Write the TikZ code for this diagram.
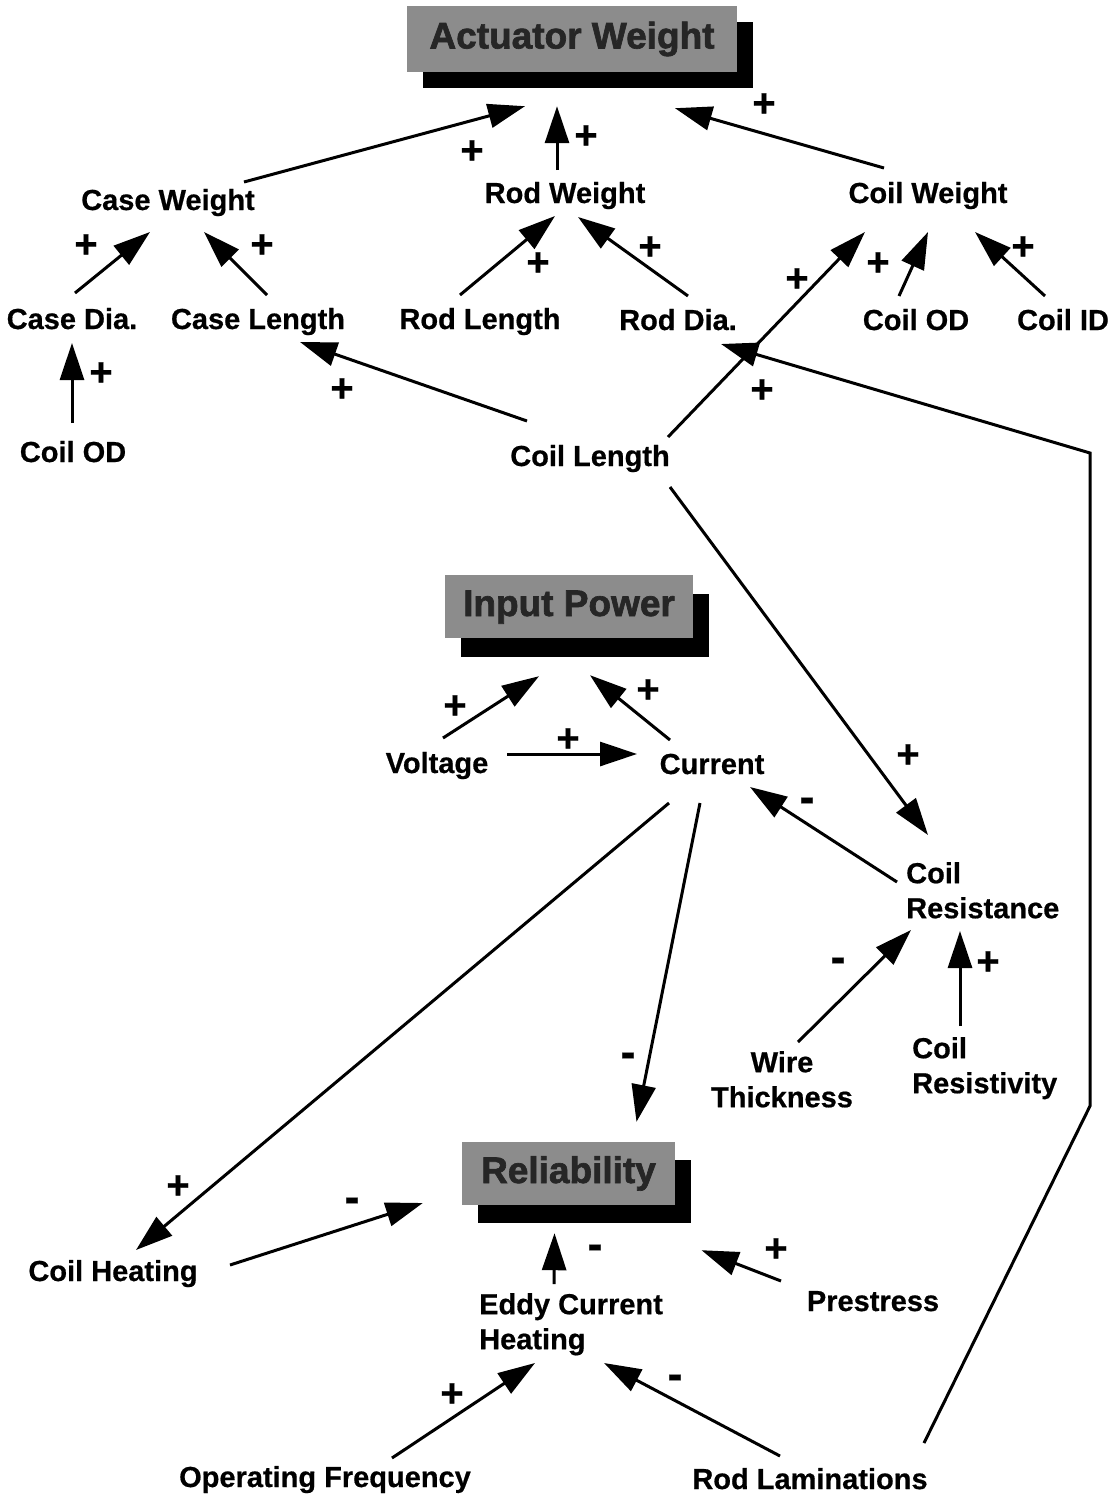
\documentclass[tikz,border=0pt]{standalone}
\usepackage{fontspec}
\setmainfont{Liberation Sans}[BoldFeatures={FakeBold=0.6}]
\newfontfamily\heavyfont{Liberation Sans}[FakeBold=1.8]
\usetikzlibrary{arrows.meta,shadows}
\definecolor{boxgray}{gray}{0.55}
\definecolor{boxtext}{gray}{0.15}
\begin{document}
\begin{tikzpicture}[x=1pt,y=-1pt,
  lbl/.style={font=\fontsize{29pt}{35pt}\selectfont\bfseries, inner sep=0pt,
              text height=21pt, text depth=6pt, anchor=base},
  mlbl/.style={font=\fontsize{29pt}{35pt}\selectfont\bfseries, inner sep=0pt},
  goal/.style={fill=boxgray, inner sep=0pt, text=boxtext,
               font=\fontsize{37pt}{40pt}\selectfont\heavyfont\bfseries,
               text height=26pt, text depth=7pt},
  arr/.style={line width=3pt, -{Triangle[length=37pt,width=24pt]}},
  plussign/.style={font=\fontsize{40pt}{40pt}\selectfont\bfseries, inner sep=0pt},
  minussign/.style={font=\fontsize{45pt}{45pt}\selectfont\bfseries, inner sep=0pt},
]
\fill[white] (0,0) rectangle (1116,1499);
\useasboundingbox (0,0) rectangle (1116,1499);

% goal boxes with solid drop shadows
\node[goal, minimum width=330pt, minimum height=66pt,
      drop shadow={shadow xshift=16pt, shadow yshift=-16pt, fill=black, opacity=1}]
      (aw) at (572,39) {Actuator Weight};
\node[goal, minimum width=248pt, minimum height=63pt,
      drop shadow={shadow xshift=16pt, shadow yshift=-19pt, fill=black, opacity=1}]
      (ip) at (569,606.5) {Input Power};
\node[goal, minimum width=213pt, minimum height=63pt,
      drop shadow={shadow xshift=16pt, shadow yshift=-18pt, fill=black, opacity=1}]
      (rel) at (568.5,1173.5) {Reliability};

% variables
\node[lbl] (cw)   at (168,210) {Case Weight};
\node[lbl] (rw)   at (565,203) {Rod Weight};
\node[lbl] (clw)  at (928,203) {Coil Weight};
\node[lbl] (cd)   at (72,329)  {Case Dia.};
\node[lbl] (cl)   at (258,329) {Case Length};
\node[lbl] (rl)   at (480,329) {Rod Length};
\node[lbl] (rd)   at (678,330) {Rod Dia.};
\node[lbl] (cod)  at (916,330) {Coil OD};
\node[lbl] (cid)  at (1063,330) {Coil ID};
\node[lbl] (codl) at (73,462)  {Coil OD};
\node[lbl] (clen) at (590,466) {Coil Length};
\node[lbl] (volt) at (437,773) {Voltage};
\node[lbl] (cur)  at (712,774) {Current};
\node[mlbl, align=left, anchor=north west] (cres) at (906,862) {Coil\\Resistance};
\node[mlbl, align=center, anchor=north] (wire) at (782,1051) {Wire\\Thickness};
\node[mlbl, align=left, anchor=north west] (crty) at (912,1037) {Coil\\Resistivity};
\node[lbl] (ch)   at (113,1281) {Coil Heating};
\node[mlbl, align=left, anchor=north west] (eddy) at (479,1293) {Eddy Current\\Heating};
\node[lbl] (pre)  at (873,1311) {Prestress};
\node[lbl] (opf)  at (325,1487) {Operating Frequency};
\node[lbl] (rlam) at (810,1489) {Rod Laminations};

% links into actuator weight
\draw[arr] ([shift={(76,-28)}]cw.base)  -- ([shift={(-47,34)}]aw.south);
\draw[arr] ([shift={(-8,-33)}]rw.base)  -- ([shift={(-15,34)}]aw.south);
\draw[arr] ([shift={(-44,-35)}]clw.base) -- ([shift={(103,36)}]aw.south);
% weight components
\draw[arr] ([shift={(3,-36)}]cd.base)   -- ([shift={(-18,22)}]cw.base);
\draw[arr] ([shift={(9,-34)}]cl.base)   -- ([shift={(36,22)}]cw.base);
\draw[arr] ([shift={(-20,-34)}]rl.base) -- ([shift={(-10,13)}]rw.base);
\draw[arr] ([shift={(10,-34)}]rd.base)  -- ([shift={(13,14)}]rw.base);
\draw[arr] ([shift={(78,-29)}]clen.base) -- ([shift={(-63,29)}]clw.base);
\draw[arr] ([shift={(-17,-34)}]cod.base) -- ([shift={(0,29)}]clw.base);
\draw[arr] ([shift={(-18,-34)}]cid.base) -- ([shift={(47,29)}]clw.base);
\draw[arr] ([shift={(-1,-39)}]codl.base) -- ([shift={(0,14)}]cd.base);
\draw[arr] ([shift={(-63,-45)}]clen.base) -- ([shift={(42,13)}]cl.base);
\draw[arr] ([shift={(80,21)}]clen.base) -- ([shift={(22,-27)}]cres.north west);
% input power loop
\draw[arr] ([shift={(6,-35)}]volt.base)  -- ([shift={(-30,38)}]ip.south);
\draw[arr] ([shift={(-42,-34)}]cur.base) -- ([shift={(21,37)}]ip.south);
\draw[arr] ([shift={(70,-19)}]volt.base) -- ([shift={(-75,-20)}]cur.base);
\draw[arr] ([shift={(-9,20)}]cres.north west) -- ([shift={(38,13)}]cur.base);
\draw[arr] ([shift={(16,-9)}]wire.north) -- ([shift={(5,68)}]cres.north west);
\draw[arr] ([shift={(48,-11)}]crty.north west) -- ([shift={(54,69)}]cres.north west);
% reliability
\draw[arr] ([shift={(-43,29)}]cur.base) -- ([shift={(23,-31)}]ch.base);
\draw[arr] ([shift={(-12,29)}]cur.base) -- ([shift={(68,-20)}]rel.north);
\draw[arr] ([shift={(117,-16)}]ch.base) -- ([shift={(-39,29.5)}]rel.west);
\draw[arr] ([shift={(75,-9)}]eddy.north west) -- ([shift={(-14,28)}]rel.south);
\draw[arr] ([shift={(-92,-30)}]pre.base) -- ([shift={(133,45)}]rel.south);
\draw[arr] ([shift={(67,-29)}]opf.base) -- ([shift={(56,70)}]eddy.north west);
\draw[arr] ([shift={(-30,-33)}]rlam.base) -- ([shift={(125,70)}]eddy.north west);
% long return link from rod laminations to rod diameter
\draw[arr] ([shift={(114,-46)}]rlam.base) -- (1090,1106) -- (1090,453)
           -- ([shift={(43,14)}]rd.base);

% polarity signs
\node[plussign] (s1)  at (472,152)  {+};
\node[plussign] (s2)  at (586,137)  {+};
\node[plussign] (s3)  at (764,105)  {+};
\node[plussign] (s4)  at (86,246)   {+};
\node[plussign] (s5)  at (262,246)  {+};
\node[plussign] (s6)  at (538,264)  {+};
\node[plussign] (s7)  at (650,248)  {+};
\node[plussign] (s8)  at (797,280)  {+};
\node[plussign] (s9)  at (878,264)  {+};
\node[plussign] (s10) at (1023,248) {+};
\node[plussign] (s11) at (101,374)  {+};
\node[plussign] (s12) at (342,390)  {+};
\node[plussign] (s13) at (762,391)  {+};
\node[plussign] (s14) at (908,756)  {+};
\node[plussign] (s15) at (455,707)  {+};
\node[plussign] (s16) at (648,691)  {+};
\node[plussign] (s17) at (568,740)  {+};
\node[minussign] (s18) at (807,805)  {-};
\node[minussign] (s19) at (838,965)  {-};
\node[plussign] (s20) at (988,963)  {+};
\node[plussign] (s21) at (178,1187) {+};
\node[minussign] (s22) at (628,1060) {-};
\node[minussign] (s23) at (352,1205) {-};
\node[minussign] (s24) at (595,1252) {-};
\node[plussign] (s25) at (776,1250) {+};
\node[plussign] (s26) at (452,1395) {+};
\node[minussign] (s27) at (675,1382) {-};
\end{tikzpicture}
\end{document}
